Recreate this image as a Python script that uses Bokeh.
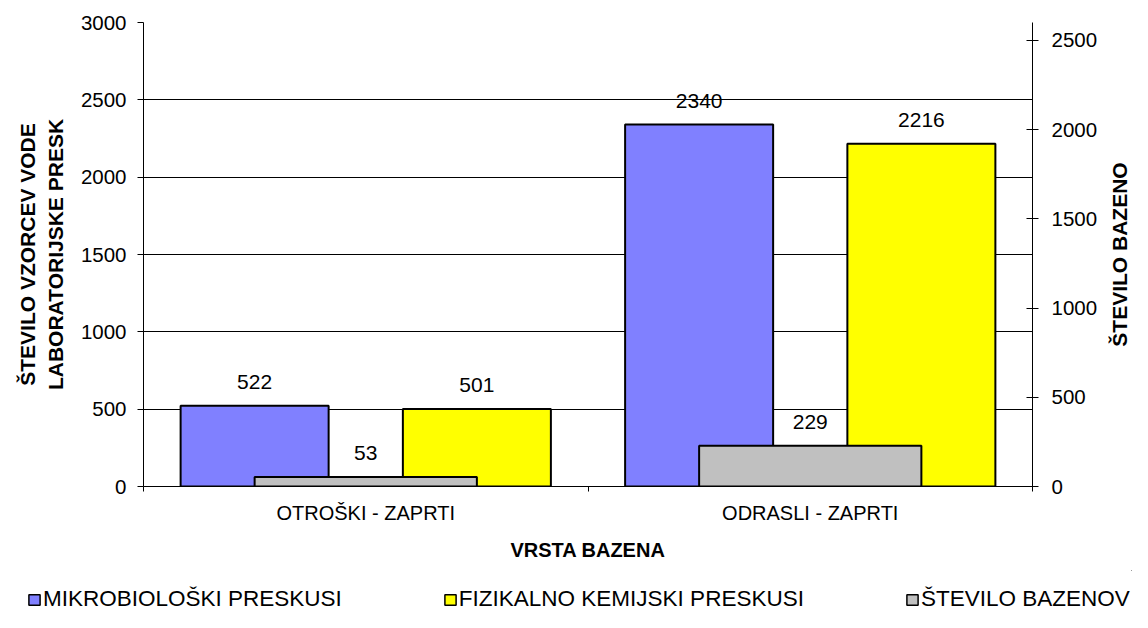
import numpy as np
from bokeh.plotting import figure
from bokeh.layouts import row
from bokeh.models import (ColumnDataSource, Range1d, LinearAxis, FixedTicker,
                          Legend, LegendItem, Label)
from bokeh.transform import dodge
from bokeh.core.properties import value
from bokeh.embed import file_html
from bokeh.resources import INLINE

# ---- data ----
categories = ["OTROŠKI - ZAPRTI", "ODRASLI - ZAPRTI"]
mikro = [522, 2340]
fizikalno = [501, 2216]
bazeni = [53, 229]
left_ticks = [0, 500, 1000, 1500, 2000, 2500, 3000]
right_ticks = [0, 500, 1000, 1500, 2000, 2500]
series_names = ["MIKROBIOLOŠKI PRESKUSI", "FIZIKALNO KEMIJSKI PRESKUSI", "ŠTEVILO BAZENOV"]
y_title_lines = ["ŠTEVILO VZORCEV VODE", "LABORATORIJSKE PRESK"]
y2_title = "ŠTEVILO BAZENO"
x_title = "VRSTA BAZENA"

FONT = "Liberation Sans"
BLUE = "#8080FF"
YELLOW = "#FFFF00"
GRAY = "#C0C0C0"

n = len(categories)
xc = [i + 0.5 for i in range(n)]
src = ColumnDataSource(dict(
    x=xc, cat=categories,
    mikro=mikro, fiz=fizikalno, baz=bazeni,
    mikro_t=[str(v) for v in mikro],
    fiz_t=[str(v) for v in fizikalno],
    baz_t=[str(v) for v in bazeni],
))

W = 1132
PW = 1100          # width of the main chart canvas
TOP, BOT = 22, 84  # borders above / below the plot frame

p = figure(width=PW, height=570,
           x_range=Range1d(0, n), y_range=Range1d(0, 3000),
           output_backend="svg", toolbar_location=None,
           min_border_left=143, min_border_right=PW - 1034,
           min_border_top=TOP, min_border_bottom=BOT)
p.extra_y_ranges = {"right": Range1d(0, 2600)}
p.background_fill_color = "white"
p.border_fill_color = "white"
p.outline_line_color = None

# grid
p.xgrid.visible = False
p.ygrid.ticker = FixedTicker(ticks=left_ticks)
p.ygrid.grid_line_color = "black"
p.ygrid.grid_line_width = 1

title_font_size = "21px"

# left axis
ya = p.yaxis[0]
ya.ticker = FixedTicker(ticks=left_ticks)
ya.axis_line_color = "black"
ya.major_tick_line_color = "black"
ya.major_tick_out = 6
ya.major_tick_in = 0
ya.minor_tick_line_color = None
ya.major_label_standoff = 11
ya.major_label_text_font = FONT
ya.major_label_text_font_size = "20.5px"
ya.major_label_text_color = "black"
ya.axis_label = y_title_lines[0] + "\n" + y_title_lines[1]
ya.axis_label_text_font = FONT
ya.axis_label_text_font_style = "bold"
ya.axis_label_text_font_size = title_font_size
ya.axis_label_text_color = "black"
ya.axis_label_standoff = 11

# right axis
ra = LinearAxis(y_range_name="right", ticker=FixedTicker(ticks=right_ticks))
ra.axis_line_color = "black"
ra.major_tick_line_color = "black"
ra.major_tick_out = 6
ra.major_tick_in = 6
ra.minor_tick_line_color = None
ra.major_label_standoff = 13
ra.major_label_text_font = FONT
ra.major_label_text_font_size = "20.5px"
ra.major_label_text_color = "black"
p.add_layout(ra, "right")

# bottom axis
xa = p.xaxis[0]
xa.ticker = FixedTicker(ticks=xc, minor_ticks=list(range(n + 1)))
xa.major_label_overrides = {x: c for x, c in zip(xc, categories)}
xa.axis_line_color = "black"
xa.major_tick_line_color = None
xa.major_tick_out = 5
xa.major_tick_in = 0
xa.minor_tick_line_color = "black"
xa.minor_tick_out = 5
xa.minor_tick_in = 0
xa.major_label_standoff = 10
xa.major_label_text_font = FONT
xa.major_label_text_font_size = "20px"
xa.major_label_text_color = "black"
xa.axis_label = x_title
xa.axis_label_text_font = FONT
xa.axis_label_text_font_style = "bold"
xa.axis_label_text_font_size = "20px"
xa.axis_label_text_color = "black"
xa.axis_label_standoff = 12

# bars
bar_kw = dict(source=src, line_color="black", line_width=2)
p.vbar(x=dodge("x", -0.25), top="mikro", width=0.333, fill_color=BLUE, **bar_kw)
p.vbar(x=dodge("x", 0.25), top="fiz", width=0.333, fill_color=YELLOW, **bar_kw)
p.vbar(x="x", top="baz", width=0.5, y_range_name="right", fill_color=GRAY, **bar_kw)

# data labels
lab_kw = dict(source=src, y_offset=-24, text_align="center", text_baseline="alphabetic",
              text_font=value(FONT), text_font_size="21px", text_color="black")
p.text(x=dodge("x", -0.25), y="mikro", text="mikro_t", **lab_kw)
p.text(x=dodge("x", 0.25), y="fiz", text="fiz_t", **lab_kw)
p.text(x="x", y="baz", text="baz_t", y_range_name="right", **lab_kw)

# ---- right-hand title strip ----
q = figure(width=W - PW, height=570, x_range=Range1d(0, 1), y_range=Range1d(0, 1),
           output_backend="svg", toolbar_location=None,
           x_axis_location=None, y_axis_location=None,
           min_border_left=0, min_border_right=0,
           min_border_top=TOP, min_border_bottom=BOT)
q.grid.visible = False
q.outline_line_color = None
q.background_fill_color = "white"
q.border_fill_color = "white"
q.add_layout(Label(x=19, y=232, x_units="screen", y_units="screen",
                   text=y2_title, angle=np.pi / 2,
                   text_align="center", text_baseline="middle",
                   text_font=FONT, text_font_style="bold",
                   text_font_size=title_font_size, text_color="black"))

# ---- legend strip (separate root, full-width frame; its bars lie out of view) ----
r = figure(width=W, height=42, x_range=Range1d(-10, -8), y_range=Range1d(-30000, -20000),
           output_backend="svg", toolbar_location=None,
           x_axis_location=None, y_axis_location=None, min_border=0)
r.grid.visible = False
r.outline_line_color = None
r.background_fill_color = "white"
r.border_fill_color = "white"
lk = dict(source=src, line_color="black", line_width=1.5)
l1 = r.vbar(x="x", top="mikro", width=0.333, fill_color=BLUE, **lk)
l2 = r.vbar(x="x", top="fiz", width=0.333, fill_color=YELLOW, **lk)
l3 = r.vbar(x="x", top="baz", width=0.5, fill_color=GRAY, **lk)
legend = Legend(items=[LegendItem(label=nm, renderers=[rr])
                       for nm, rr in zip(series_names, [l1, l2, l3])],
                location=(27, 0), orientation="horizontal",
                label_text_font=FONT, label_text_font_size="22.5px",
                label_text_color="black",
                glyph_width=14, glyph_height=13, label_standoff=2,
                padding=0, margin=0, spacing=101,
                border_line_color=None, background_fill_alpha=0)
r.add_layout(legend, "center")

open("out.html", "w").write(file_html([row(p, q, spacing=0), r], INLINE))
